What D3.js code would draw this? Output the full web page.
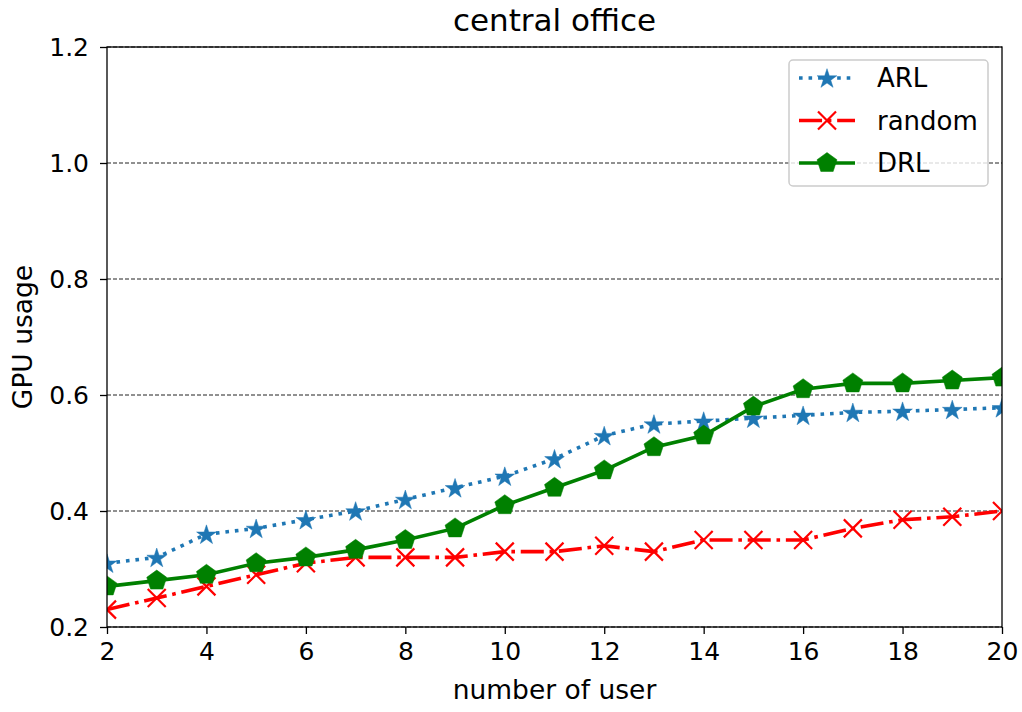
<!DOCTYPE html>
<html>
<head>
<meta charset="utf-8">
<script src="https://cdn.jsdelivr.net/npm/d3@7"></script>
<style>
  body { margin: 0; background: #fff; }
  text { font-family: "DejaVu Sans", sans-serif; }
</style>
</head>
<body>
<div id="chart"></div>
<script>
// Data
const users = [2, 3, 4, 5, 6, 7, 8, 9, 10, 11, 12, 13, 14, 15, 16, 17, 18, 19, 20];
const arl = [0.31, 0.32, 0.36, 0.37, 0.385, 0.40, 0.42, 0.44, 0.46, 0.49, 0.53, 0.55, 0.555, 0.56, 0.565, 0.57, 0.572, 0.575, 0.578];
const randomSeries = [0.23, 0.25, 0.27, 0.29, 0.31, 0.32, 0.32, 0.32, 0.33, 0.33, 0.34, 0.33, 0.35, 0.35, 0.35, 0.37, 0.385, 0.39, 0.40];
const drl = [0.27, 0.28, 0.29, 0.31, 0.32, 0.333, 0.35, 0.37, 0.41, 0.44, 0.47, 0.51, 0.53, 0.58, 0.61, 0.62, 0.62, 0.625, 0.63];
const xTicks = [2, 4, 6, 8, 10, 12, 14, 16, 18, 20];
const yTicks = [0.2, 0.4, 0.6, 0.8, 1.0, 1.2];

const width = 1022, height = 712;
const margin = { top: 47, right: 20, bottom: 85, left: 107 };
const chartWidth = 1002 - margin.left;
const chartHeight = 627 - margin.top;
const lw = 3.6;

const svg = d3.select("#chart").append("svg")
    .attr("width", width)
    .attr("height", height);

const g = svg.append("g")
    .attr("transform", `translate(${margin.left},${margin.top})`);

// Scales
const x = d3.scaleLinear().domain([2, 20]).range([0, chartWidth]);
const y = d3.scaleLinear().domain([0.2, 1.2]).range([chartHeight, 0]);

// Grid lines (y only)
g.append("g")
    .selectAll("line")
    .data(yTicks)
    .enter()
    .append("line")
    .attr("x1", 0)
    .attr("x2", chartWidth)
    .attr("y1", d => y(d))
    .attr("y2", d => y(d))
    .attr("stroke", "#222")
    .attr("stroke-width", 1)
    .attr("stroke-dasharray", "4,2");

// Series
const series = [
    { name: "ARL", values: arl, color: "#1f77b4", dash: `${lw},${lw * 1.65}`, marker: "star" },
    { name: "random", values: randomSeries, color: "#ff0000", dash: `${lw * 6.4},${lw * 1.6},${lw},${lw * 1.6}`, marker: "x" },
    { name: "DRL", values: drl, color: "#008000", dash: null, marker: "pentagon" }
];

const line = d3.line()
    .x(d => x(d[0]))
    .y(d => y(d[1]));

svg.append("defs").append("clipPath").attr("id", "clip")
    .append("rect").attr("x", 0).attr("y", -12)
    .attr("width", chartWidth).attr("height", chartHeight + 12);

function drawMarker(sel, type, color) {
    if (type === "star") {
        sel.append("path")
            .attr("d", d3.symbol().type(d3.symbolStar).size(120))
            .attr("transform", "translate(0,1)")
            .attr("fill", color)
            .attr("stroke", color)
            .attr("stroke-width", 0.5);
    } else if (type === "x") {
        const s = 9;
        sel.append("path")
            .attr("d", `M${-s},${-s}L${s},${s}M${-s},${s}L${s},${-s}`)
            .attr("stroke", color)
            .attr("stroke-width", 2.2)
            .attr("fill", "none");
    } else {
        const r = 10.5;
        const pts = d3.range(5).map(i => {
            const a = -Math.PI / 2 + i * 2 * Math.PI / 5;
            return [r * Math.cos(a), r * Math.sin(a)];
        });
        sel.append("path")
            .attr("d", "M" + pts.map(p => p.join(",")).join("L") + "Z")
            .attr("fill", color)
            .attr("stroke", color)
            .attr("stroke-width", 0.5);
    }
}

const plot = g.append("g").attr("clip-path", "url(#clip)");

series.forEach(s => {
    const pts = users.map((u, i) => [u, s.values[i]]);
    plot.append("path")
        .datum(pts)
        .attr("fill", "none")
        .attr("stroke", s.color)
        .attr("stroke-width", lw)
        .attr("stroke-dasharray", s.dash)
        .attr("d", line);
    pts.forEach(p => {
        const m = plot.append("g").attr("transform", `translate(${x(p[0])},${y(p[1])})`);
        drawMarker(m, s.marker, s.color);
    });
});

// Frame
g.append("rect")
    .attr("width", chartWidth)
    .attr("height", chartHeight)
    .attr("fill", "none")
    .attr("stroke", "#000")
    .attr("stroke-width", 1.3);

// X axis
const xAxis = g.append("g")
    .attr("transform", `translate(0,${chartHeight})`)
    .call(d3.axisBottom(x).tickValues(xTicks).tickSize(7).tickPadding(8).tickFormat(d3.format("d")));
xAxis.select(".domain").remove();
xAxis.selectAll("line").attr("stroke-width", 1.3);
xAxis.selectAll("text").style("font-size", "25px").attr("fill", "#000");

// Y axis
const yAxis = g.append("g")
    .call(d3.axisLeft(y).tickValues(yTicks).tickSize(7).tickPadding(11).tickFormat(d3.format(".1f")));
yAxis.select(".domain").remove();
yAxis.selectAll("line").attr("stroke-width", 1.3);
yAxis.selectAll("text").style("font-size", "25px").attr("fill", "#000");

// Axis labels and title
svg.append("text")
    .attr("x", margin.left + chartWidth / 2)
    .attr("y", 699)
    .attr("text-anchor", "middle")
    .style("font-size", "26.5px")
    .text("number of user");

svg.append("text")
    .attr("transform", `translate(32,${margin.top + chartHeight / 2}) rotate(-90)`)
    .attr("text-anchor", "middle")
    .style("font-size", "26.5px")
    .text("GPU usage");

svg.append("text")
    .attr("x", margin.left + chartWidth / 2)
    .attr("y", 31)
    .attr("text-anchor", "middle")
    .style("font-size", "31px")
    .text("central office");

// Legend
const legend = svg.append("g").attr("transform", "translate(789,60)");
legend.append("rect")
    .attr("width", 199)
    .attr("height", 126)
    .attr("rx", 4)
    .attr("fill", "rgba(255,255,255,0.8)")
    .attr("stroke", "#ccc")
    .attr("stroke-width", 1.5);

series.forEach((s, i) => {
    const row = legend.append("g").attr("transform", `translate(0,${18 + i * 42.5})`);
    row.append("line")
        .attr("x1", 10).attr("x2", 66)
        .attr("stroke", s.color)
        .attr("stroke-width", lw)
        .attr("stroke-dasharray", s.dash);
    const m = row.append("g").attr("transform", "translate(38,0)");
    drawMarker(m, s.marker, s.color);
    row.append("text")
        .attr("x", 88)
        .attr("y", 9)
        .style("font-size", "26px")
        .text(s.name);
});
</script>
</body>
</html>
